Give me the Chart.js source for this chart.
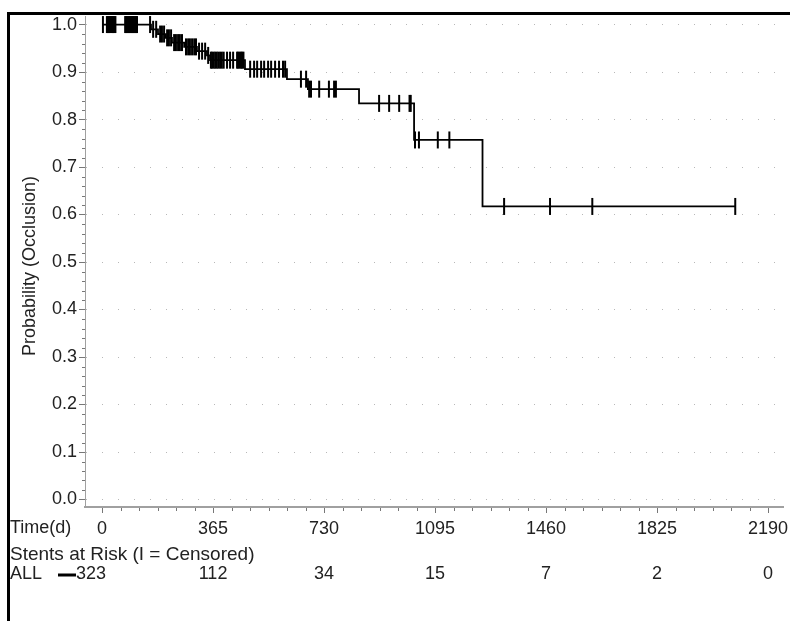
<!DOCTYPE html>
<html>
<head>
<meta charset="utf-8">
<script src="https://cdn.jsdelivr.net/npm/chart.js@4.4.1/dist/chart.umd.min.js"></script>
<style>
  html, body { margin: 0; padding: 0; background: #fff; }
</style>
</head>
<body>
<canvas id="km" width="790" height="621"></canvas>
<script>
// Kaplan-Meier curve: day of each event and survival right after it
const eventDays = [0, 161, 184, 210, 230, 270, 312, 345, 355, 470, 608, 677, 845, 1026, 1251];
const survival  = [1.0, 0.99, 0.98, 0.972, 0.962, 0.953, 0.944, 0.935, 0.925, 0.906, 0.885, 0.864, 0.834, 0.757, 0.617];
const lastDay = 2082;

// censored stents (days)
const censorDays = [
  3, 16, 19, 22, 25, 28, 31, 34, 37, 40, 44,
  76, 79, 82, 86, 89, 92, 96, 99, 102, 105, 109, 112, 115, 158,
  168, 178, 191, 197, 204, 214, 220, 227,
  237, 243, 250, 256, 263, 276, 283, 289, 296, 303, 309,
  319, 329, 339, 349,
  358, 362, 367, 372, 377, 382, 388, 394, 400, 411, 421, 431,
  444, 448, 452, 457, 461, 465,
  487, 500, 510, 523, 533, 546, 556, 569, 582, 595, 602,
  654, 671, 681, 687, 714, 746, 763, 769,
  911, 944, 977, 1011, 1015, 1029, 1042, 1104, 1142,
  1322, 1473, 1612, 2082
];

const xTicks = [0, 365, 730, 1095, 1460, 1825, 2190];
const yTicks = [0, 0.1, 0.2, 0.3, 0.4, 0.5, 0.6, 0.7, 0.8, 0.9, 1.0];
const atRisk = [323, 112, 34, 15, 7, 2, 0];

function survAt(d) {
    let s = survival[0];
    for (let i = 0; i < eventDays.length; i++) {
        if (eventDays[i] <= d) s = survival[i];
    }
    return s;
}

const curve = eventDays.map((d, i) => ({ x: d, y: survival[i] }));
curve.push({ x: lastDay, y: survival[survival.length - 1] });
const censored = censorDays.map((d) => ({ x: d, y: survAt(d) }));

const FONT = '18px "Liberation Sans", Arial, sans-serif';

// frame, minor ticks, at-risk table, y title
const extras = {
    id: 'extras',
    afterDraw(chart) {
        const { ctx, scales: { x, y }, chartArea: a } = chart;
        ctx.save();

        // minor ticks
        ctx.strokeStyle = '#777';
        ctx.lineWidth = 1;
        ctx.beginPath();
        for (let k = 1; k < 50; k++) {
            if (k % 5 === 0) continue;
            const py = Math.round(y.getPixelForValue(k * 0.02)) + 0.5;
            ctx.moveTo(a.left - 3, py);
            ctx.lineTo(a.left, py);
        }
        for (let k = 1; k < 36; k++) {
            if (k % 6 === 0) continue;
            const px = Math.round(x.getPixelForValue(k * 365 / 6)) + 0.5;
            ctx.moveTo(px, a.bottom + 1);
            ctx.lineTo(px, a.bottom + 4);
        }
        ctx.stroke();

        // frame
        ctx.strokeStyle = '#000';
        ctx.lineWidth = 3;
        ctx.beginPath();
        ctx.moveTo(790, 13.5);
        ctx.lineTo(8.5, 13.5);
        ctx.lineTo(8.5, 621);
        ctx.stroke();

        ctx.font = FONT;
        ctx.fillStyle = '#222';
        ctx.textBaseline = 'middle';
        ctx.textAlign = 'left';
        ctx.fillText('Time(d)', 10, 528);
        ctx.font = '19px "Liberation Sans", Arial, sans-serif';
        ctx.fillText('Stents at Risk (I = Censored)', 10, 555);
        ctx.font = FONT;
        ctx.fillText('ALL', 10, 574);

        ctx.lineWidth = 3;
        ctx.beginPath();
        ctx.moveTo(58, 575);
        ctx.lineTo(76, 575);
        ctx.stroke();

        atRisk.forEach((n, i) => {
            if (i === 0) {
                ctx.textAlign = 'left';
                ctx.fillText(String(n), 76, 574);
            } else {
                ctx.textAlign = 'center';
                ctx.fillText(String(n), x.getPixelForValue(xTicks[i]), 574);
            }
        });

        ctx.translate(30, 266);
        ctx.rotate(-Math.PI / 2);
        ctx.textAlign = 'center';
        ctx.fillText('Probability (Occlusion)', 0, 0);
        ctx.restore();
    }
};

Chart.defaults.font.family = '"Liberation Sans", Arial, sans-serif';
Chart.defaults.font.size = 18;
Chart.defaults.color = '#222';

new Chart(document.getElementById('km'), {
    type: 'scatter',
    data: {
        datasets: [
            {
                data: curve,
                showLine: true,
                stepped: true,
                borderColor: '#000',
                borderWidth: 1.8,
                pointRadius: 0,
                fill: false,
            },
            {
                data: censored,
                showLine: false,
                pointStyle: 'line',
                rotation: 90,
                pointRadius: 8.5,
                pointBorderWidth: 2,
                pointBorderColor: '#000',
                pointBackgroundColor: '#000',
            },
        ],
    },
    plugins: [extras],
    options: {
        responsive: false,
        animation: false,
        events: [],
        layout: { autoPadding: false, padding: { left: 0, top: 16, right: 7, bottom: 0 } },
        plugins: {
            legend: { display: false },
            tooltip: { enabled: false },
        },
        scales: {
            x: {
                type: 'linear',
                min: -56,
                max: 2239,
                afterBuildTicks: (s) => { s.ticks = xTicks.map((v) => ({ value: v })); },
                afterFit: (s) => {
                    s.height = 114;
                    s.paddingLeft = 0;
                    s.paddingRight = 0;
                },
                ticks: { padding: 5, maxRotation: 0, autoSkip: false, callback: (v) => String(v) },
                grid: { drawOnChartArea: false, drawTicks: true, tickLength: 6, tickColor: '#777' },
                border: { display: true, color: '#a0a0a0', width: 2 },
            },
            y: {
                type: 'linear',
                min: -0.0158,
                max: 1.018,
                afterBuildTicks: (s) => { s.ticks = yTicks.map((v) => ({ value: v })); },
                afterFit: (s) => {
                    s.width = 85;
                    s.paddingTop = 0;
                    s.paddingBottom = 0;
                },
                ticks: { padding: 2, callback: (v) => v.toFixed(1) },
                grid: { drawOnChartArea: true, color: '#b8b8b8', lineWidth: 1, drawTicks: true, tickLength: 6, tickColor: '#777' },
                border: { display: true, color: '#a0a0a0', width: 1, dash: [1, 15] },
            },
        },
    },
});
</script>
</body>
</html>
